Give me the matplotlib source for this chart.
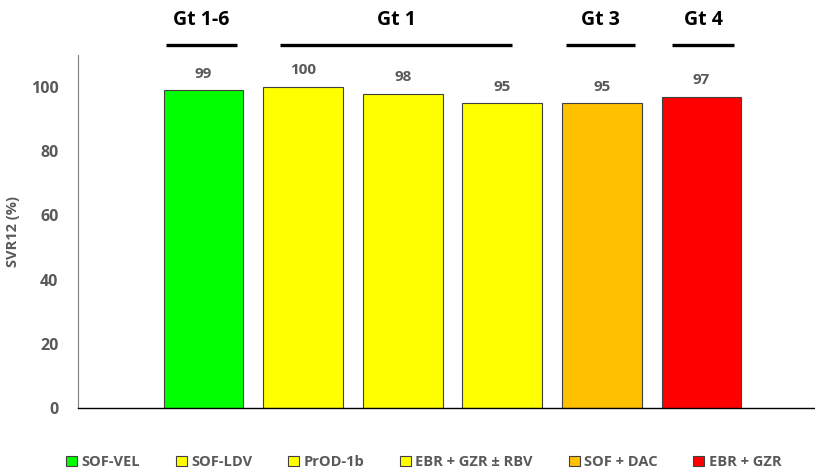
import matplotlib
matplotlib.use("Agg")
import matplotlib.pyplot as plt
from matplotlib.transforms import blended_transform_factory
from matplotlib.patches import Patch

plt.rcParams['font.family'] = ['Open Sans', 'DejaVu Sans']

regimens = ["SOF-VEL", "SOF-LDV", "PrOD-1b", "EBR + GZR ± RBV", "SOF + DAC", "EBR + GZR"]
svr12 = [99, 100, 98, 95, 95, 97]
colors = ["#00FF00", "#FFFF00", "#FFFF00", "#FFFF00", "#FFC000", "#FF0000"]
groups = ["Gt 1-6", "Gt 1", "Gt 3", "Gt 4"]
group_spans = [(-0.38, 0.34), (0.77, 3.10), (3.64, 4.33), (4.70, 5.33)]
yticks = [0, 20, 40, 60, 80, 100]

grey = "#595959"
fig = plt.figure(figsize=(8.15, 4.76), dpi=100)
ax = fig.add_axes([78/815, 68/476, 1 - 78/815, (408-55)/476])

x = list(range(len(regimens)))
bars = ax.bar(x, svr12, width=0.8, color=colors, edgecolor="#404040", linewidth=0.8, zorder=2)
for xi, v in zip(x, svr12):
    ax.text(xi, v + 3, str(v), ha="center", va="bottom", fontsize=11, fontweight="bold", color=grey)

ax.set_xlim(-1.26, 6.14)
ax.set_ylim(0, 110)
ax.set_yticks(yticks)
ax.set_yticklabels([str(t) for t in yticks], fontsize=11.5, fontweight="bold", color=grey)
ax.tick_params(axis="y", length=0, pad=14)
ax.set_xticks([])
ax.set_ylabel("SVR12 (%)", fontsize=10.5, fontweight="bold", color=grey, labelpad=8)
for s in ["top", "right"]:
    ax.spines[s].set_visible(False)
ax.spines["left"].set_color("#7f7f7f")
ax.spines["left"].set_linewidth(0.8)
ax.spines["bottom"].set_color("black")
ax.spines["bottom"].set_linewidth(1.0)

tr = blended_transform_factory(ax.transData, ax.transAxes)
line_y = (408 - 45) / 353
text_y = (408 - 20) / 353
for g, (a, b) in zip(groups, group_spans):
    ax.plot([a, b], [line_y, line_y], transform=tr, color="black", linewidth=2.4,
            clip_on=False, solid_capstyle="butt")
    ax.text((a + b) / 2, text_y, g, transform=tr, ha="center", va="center",
            fontsize=14, fontweight="bold", color="black")

handles = [Patch(facecolor=c, edgecolor="#404040", linewidth=0.8) for c in colors]
leg = fig.legend(handles, regimens, loc="center", bbox_to_anchor=(0.52, (476-462)/476),
                 ncol=6, frameon=False, handlelength=0.75, handleheight=0.75,
                 handletextpad=0.3, columnspacing=2.45,
                 prop={"size": 10.5, "weight": "bold"})
for t in leg.get_texts():
    t.set_color(grey)

fig.savefig("out.png", dpi=100)
